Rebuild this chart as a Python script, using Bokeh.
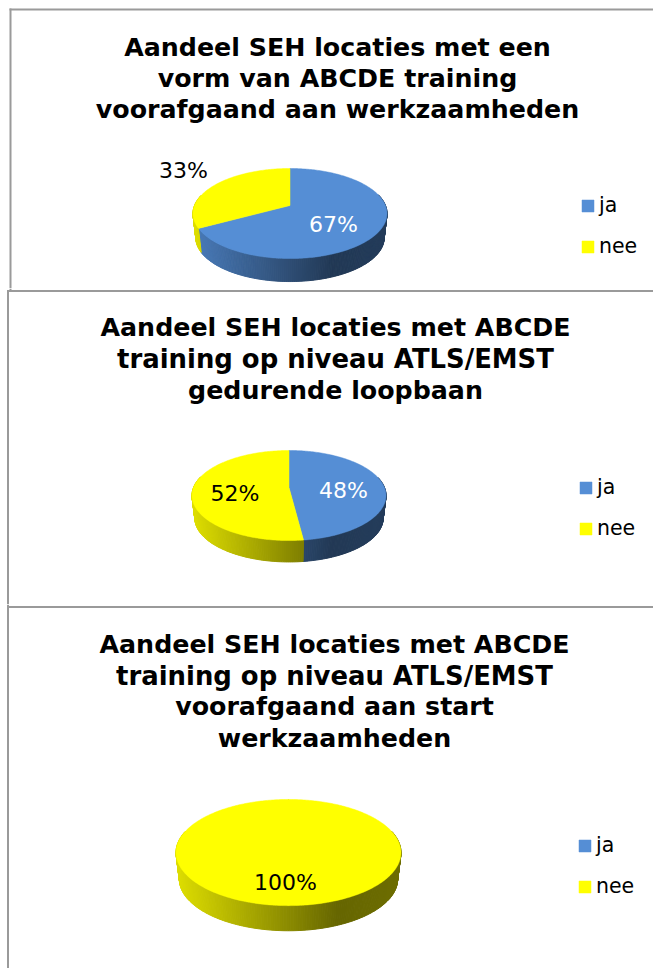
from bokeh.plotting import figure
from bokeh.layouts import column
from bokeh.models import Legend, LegendItem
from bokeh.core.properties import value
from bokeh.embed import file_html
from bokeh.resources import INLINE
import math

series_names = ["ja", "nee"]
titles_1 = ["Aandeel SEH locaties met een", "vorm van ABCDE training", "voorafgaand aan werkzaamheden"]
titles_2 = ["Aandeel SEH locaties met ABCDE", "training op niveau ATLS/EMST", "gedurende loopbaan"]
titles_3 = ["Aandeel SEH locaties met ABCDE", "training op niveau ATLS/EMST", "voorafgaand aan start", "werkzaamheden"]
values_1 = [67, 33]
values_2 = [48, 52]
values_3 = [0, 100]

BLUE = (85, 142, 213)
YELLOW = (255, 255, 0)
BASE = [BLUE, YELLOW]
LABEL_COL = ["white", "black"]
FONT = "DejaVu Sans"
BORDER = "#9a9a9a"
WIDE_ROW = "training op niveau ATLS/EMST"


def shade(c, t):
    stops = [(0, .87), (.72, .40), (1, .43)]
    f = .43
    for (a, fa), (b, fb) in zip(stops, stops[1:]):
        if a <= t <= b:
            f = fa + (fb - fa) * (t - a) / (b - a)
    return "#%02x%02x%02x" % tuple(int(v * f) for v in c)


def make_chart(titles, vals, top, width, height, g, label_pos, legend_xy, title_cx, title_ys, borders):
    p = figure(width=width, height=height, x_range=(0, width), y_range=(top + height, top),
               output_backend="svg", toolbar_location=None, min_border=0,
               outline_line_color=None, background_fill_color="white")
    p.xaxis.visible = False
    p.yaxis.visible = False
    p.grid.visible = False

    cx, vy, s, sy, k, w, d = g["cx"], g["vy"], g["s"], g["sy"], g["k"], g["w"], g["d"]
    half = s / math.sqrt(1 - k * k)

    def rim(deg, scale=1.0, dy=0.0):
        X, Y = math.sin(math.radians(deg)), math.cos(math.radians(deg))
        den = 1 + k * Y
        return cx + X * s / den * scale, vy - Y * sy / den * scale + dy

    total = sum(vals)
    start = 0.0
    sx, sy_, sc = [], [], []
    tops = []
    for v, base in zip(vals, BASE):
        end = start + 360.0 * v / total
        n = max(1, int(round((end - start) / 1.0)))
        angs = [start + (end - start) * i / n for i in range(n + 1)]
        for a, b in zip(angs, angs[1:]):
            if math.cos(math.radians((a + b) / 2)) > 0.25:
                continue
            p1, p2, p3, p4 = rim(a), rim(b), rim(b, w, d), rim(a, w, d)
            sx.append([p1[0], p2[0], p3[0], p4[0]])
            sy_.append([p1[1], p2[1], p3[1], p4[1]])
            t = ((p1[0] + p2[0]) / 2 - (cx - half)) / (2 * half)
            sc.append(shade(base, max(0, min(1, t))))
        pts = [(cx, vy)] + [rim(a) for a in angs]
        tops.append(pts)
        start = end
    p.patches(sx, sy_, fill_color=sc, line_color=sc, line_width=1.0)

    items = []
    for name, pts, base in zip(series_names, tops, BASE):
        col = "#%02x%02x%02x" % base
        r = p.patch([q[0] for q in pts], [q[1] for q in pts], fill_color=col, line_color=col, line_width=0.5)
        items.append(LegendItem(label=name, renderers=[r]))

    lx, ly, lc, lt = [], [], [], []
    for v, pos, c in zip(vals, label_pos, LABEL_COL):
        if v > 0:
            lx.append(pos[0]); ly.append(pos[1]); lc.append(c); lt.append(f"{v}%")
    p.text(lx, ly, text=lt, text_color=lc, text_font=value(FONT), text_font_size="22px",
           text_align="center", text_baseline="middle")

    sizes = ["25.9px" if t == WIDE_ROW else "25.3px" for t in titles]
    p.text([title_cx] * len(titles), title_ys, text=titles, text_color="black", text_font=value(FONT),
           text_font_style="bold", text_font_size=sizes, text_align="center", text_baseline="middle")

    leg = Legend(items=items, location=legend_xy, orientation="vertical",
                 border_line_color=None, background_fill_alpha=0, glyph_width=15, glyph_height=15,
                 label_text_font=FONT, label_text_font_size="20.5px", label_text_color="black",
                 label_standoff=4, spacing=17,
                 padding=0, margin=0, label_height=24, label_text_baseline="middle")
    p.add_layout(leg, "center")

    p.segment([b[0] for b in borders], [b[1] for b in borders], [b[2] for b in borders], [b[3] for b in borders],
              line_color=BORDER, line_width=2)
    return p


k = 0.178
p1 = make_chart(titles_1, values_1, 0, 653, 288,
                dict(cx=289.5, vy=205, s=95.5, sy=43.6, k=k, w=.97, d=24.6),
                [(333, 224), (183, 170)], (580, 30), 337, [47, 78, 109],
                [(9, 9, 653, 9), (10, 8, 10, 288)])
p2 = make_chart(titles_2, values_2, 288, 653, 316,
                dict(cx=288.5, vy=487, s=95.5, sy=43.6, k=k, w=.97, d=23),
                [(343, 490), (234.5, 492.5)], (578, 64), 335, [327, 358, 390],
                [(10, 288, 10, 290), (6.5, 290.5, 653, 290.5), (7.5, 290, 7.5, 604)])
p3 = make_chart(titles_3, values_3, 604, 653, 364,
                dict(cx=288, vy=842.6, s=110.7, sy=51.4, k=k, w=.97, d=27),
                [(285, 882), (285, 882)], (577, 70), 334, [644, 675, 706, 738],
                [(7.5, 604, 7.5, 968), (7.5, 606.5, 653, 606.5)])

page = column(p1, p2, p3, spacing=0)
open("out.html", "w").write(file_html(page, INLINE))
